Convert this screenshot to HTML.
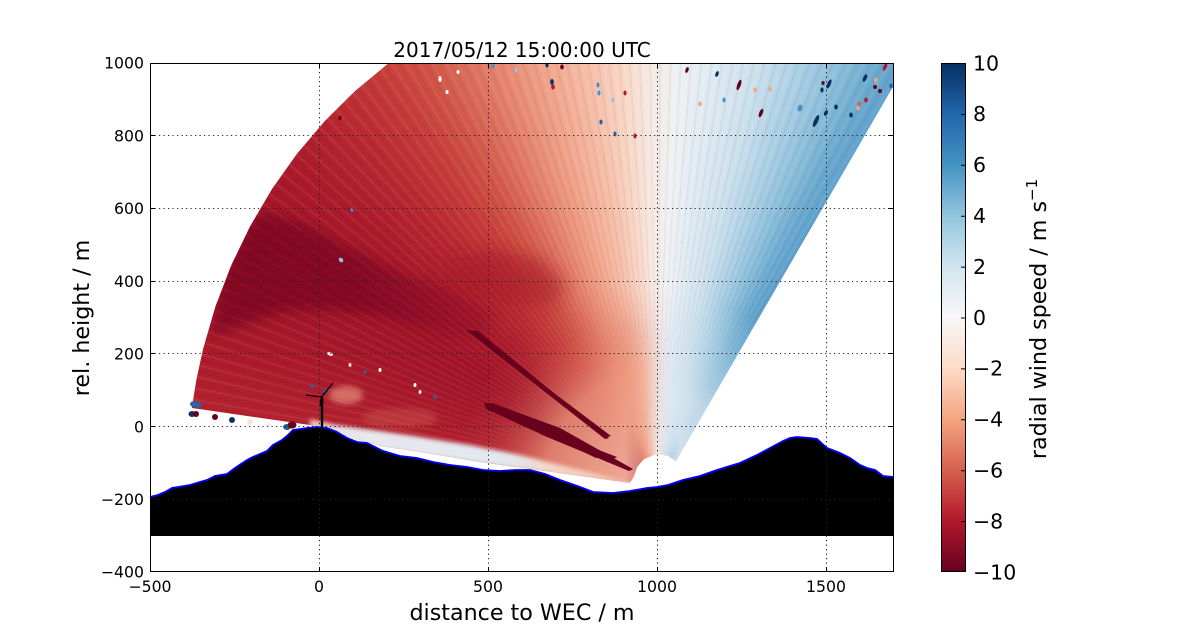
<!DOCTYPE html>
<html>
<head>
<meta charset="utf-8">
<style>
html,body{margin:0;padding:0;background:#fff;}
#wrap{position:relative;width:1200px;height:636px;overflow:hidden;background:#fff;}
#fan{position:absolute;left:0;top:0;width:1200px;height:636px;
clip-path:polygon(191.8px 408px,310px 425px,380px 446px,420px 452px,487px 463px,553px 472px,630px 483px,634px 476px,637px 467px,644px 459px,657px 454px,668px 456px,676px 461px,894px 85px,894px 63px,388.8px 63px,354.9px 91.1px,324.7px 121.1px,297px 153.8px,272px 189px,250px 226.5px,231px 265.9px,215.3px 306.9px,203px 349.3px,196.4px 379.5px);
background:
repeating-conic-gradient(from 270deg at 657px 481px, rgba(255,255,255,0.06) 0deg 0.3deg, rgba(255,255,255,0) 0.3deg 0.7deg, rgba(80,0,20,0.05) 0.7deg 1deg, rgba(0,0,0,0) 1deg 1.4deg),
conic-gradient(from 270deg at 657px 481px,
rgb(178,30,45) 0deg, rgb(180,34,47) 9deg, rgb(172,27,44) 16deg, rgb(164,22,41) 24deg, rgb(162,20,40) 32deg,
rgb(172,27,44) 42deg, rgb(186,42,50) 50deg, rgb(198,60,58) 56deg, rgb(208,84,70) 61deg, rgb(222,115,95) 66deg,
rgb(234,145,120) 71deg, rgb(242,170,145) 76deg, rgb(246,193,172) 81deg, rgb(248,214,198) 85deg, rgb(246,234,228) 89deg,
rgb(238,241,244) 93deg, rgb(222,234,242) 98deg, rgb(202,224,237) 104deg, rgb(172,208,229) 109deg, rgb(138,190,218) 114deg,
rgb(108,170,208) 118deg, rgb(92,160,204) 122deg, rgb(92,160,204) 360deg);
}
svg{position:absolute;left:0;top:0;}
text{font-family:"DejaVu Sans","Liberation Sans",sans-serif;fill:#000;}
</style>
</head>
<body>
<div id="wrap">
<div id="fan"></div>
<svg width="1200" height="636" viewBox="0 0 1200 636" xmlns="http://www.w3.org/2000/svg">
<defs>
<clipPath id="fanclip">
<polygon points="191.8,408 310,425 380,446 420,452 487,463 553,472 630,483 634,476 637,467 644,459 657,454 668,456 676,461 894,85 894,63 388.8,63 354.9,91.1 324.7,121.1 297,153.8 272,189 250,226.5 231,265.9 215.3,306.9 203,349.3 196.4,379.5"/>
</clipPath>
<filter id="b5" x="-30%" y="-30%" width="160%" height="160%"><feGaussianBlur stdDeviation="6"/></filter>
<filter id="b8" x="-30%" y="-30%" width="160%" height="160%"><feGaussianBlur stdDeviation="8"/></filter>
<filter id="b3" x="-30%" y="-30%" width="160%" height="160%"><feGaussianBlur stdDeviation="3"/></filter>
<filter id="b2" x="-30%" y="-30%" width="160%" height="160%"><feGaussianBlur stdDeviation="2"/></filter>
<radialGradient id="rg" gradientUnits="userSpaceOnUse" cx="657" cy="481" r="200">
<stop offset="0" stop-color="rgb(245,195,175)" stop-opacity="0.9"/>
<stop offset="0.3" stop-color="rgb(242,172,147)" stop-opacity="0.88"/>
<stop offset="0.55" stop-color="rgb(237,152,127)" stop-opacity="0.78"/>
<stop offset="0.7" stop-color="rgb(228,130,108)" stop-opacity="0.45"/>
<stop offset="0.85" stop-color="rgb(215,110,95)" stop-opacity="0.15"/>
<stop offset="1" stop-color="rgb(215,110,95)" stop-opacity="0"/>
</radialGradient>
<radialGradient id="rgR" gradientUnits="userSpaceOnUse" cx="657" cy="481" r="190">
<stop offset="0" stop-color="rgb(236,240,244)" stop-opacity="0.9"/>
<stop offset="0.45" stop-color="rgb(222,233,241)" stop-opacity="0.75"/>
<stop offset="0.75" stop-color="rgb(210,227,238)" stop-opacity="0.35"/>
<stop offset="1" stop-color="rgb(210,227,238)" stop-opacity="0"/>
</radialGradient>
<linearGradient id="mLg" gradientUnits="userSpaceOnUse" x1="625" y1="0" x2="672" y2="0">
<stop offset="0" stop-color="#fff"/><stop offset="1" stop-color="#000"/>
</linearGradient>
<linearGradient id="mRg" gradientUnits="userSpaceOnUse" x1="645" y1="0" x2="680" y2="0">
<stop offset="0" stop-color="#000"/><stop offset="1" stop-color="#fff"/>
</linearGradient>
<mask id="mL" maskUnits="userSpaceOnUse" x="0" y="0" width="1200" height="636"><rect x="0" y="0" width="1200" height="636" fill="url(#mLg)"/></mask>
<mask id="mR" maskUnits="userSpaceOnUse" x="0" y="0" width="1200" height="636"><rect x="0" y="0" width="1200" height="636" fill="url(#mRg)"/></mask>
<linearGradient id="pale" gradientUnits="userSpaceOnUse" x1="310" y1="0" x2="632" y2="0">
<stop offset="0" stop-color="rgb(238,190,172)"/>
<stop offset="0.1" stop-color="rgb(232,230,236)"/>
<stop offset="0.6" stop-color="rgb(226,233,240)"/>
<stop offset="0.75" stop-color="rgb(244,214,200)"/>
<stop offset="1" stop-color="rgb(246,200,182)"/>
</linearGradient>
<linearGradient id="band" gradientUnits="userSpaceOnUse" x1="210" y1="0" x2="500" y2="0">
<stop offset="0" stop-color="rgb(112,2,32)" stop-opacity="0.65"/>
<stop offset="0.5" stop-color="rgb(112,2,32)" stop-opacity="0.6"/>
<stop offset="1" stop-color="rgb(112,2,32)" stop-opacity="0.15"/>
</linearGradient>
<linearGradient id="cb" x1="0" y1="0" x2="0" y2="1">
<stop offset="0" stop-color="#053061"/>
<stop offset="0.1" stop-color="#2166ac"/>
<stop offset="0.2" stop-color="#4393c3"/>
<stop offset="0.3" stop-color="#92c5de"/>
<stop offset="0.4" stop-color="#d1e5f0"/>
<stop offset="0.5" stop-color="#f7f7f7"/>
<stop offset="0.6" stop-color="#fddbc7"/>
<stop offset="0.7" stop-color="#f4a582"/>
<stop offset="0.8" stop-color="#d6604d"/>
<stop offset="0.9" stop-color="#b2182b"/>
<stop offset="1" stop-color="#67001f"/>
</linearGradient>
</defs>

<!-- overlays inside fan -->
<g clip-path="url(#fanclip)">
  <rect x="0" y="0" width="1200" height="636" fill="url(#rg)" mask="url(#mL)"/>
  <rect x="0" y="0" width="1200" height="636" fill="url(#rgR)" mask="url(#mR)"/>
  <polygon filter="url(#b5)" fill="url(#band)" points="212,335 220,285 238,240 262,212 300,222 350,248 400,272 445,290 480,302 500,314 485,336 455,338 420,327 380,316 330,310 290,310 250,322"/>
  <polygon filter="url(#b8)" fill="rgb(160,18,40)" opacity="0.5" points="445,258 500,250 545,262 565,285 555,305 510,305 465,296 440,280"/>
  <polygon filter="url(#b2)" fill="url(#pale)" points="310,419 335,425 380,431 420,437 470,445 520,455 560,465 600,475 632,484 553,474 487,465 420,455 380,449 335,441 310,432"/>
  <ellipse filter="url(#b3)" cx="346" cy="395" rx="17" ry="9" fill="rgb(236,160,135)" opacity="0.6"/>
  <ellipse filter="url(#b3)" cx="400" cy="418" rx="38" ry="10" fill="rgb(220,115,98)" opacity="0.3"/>
  <g fill="rgb(105,0,30)">
    <polygon points="466,330 478,331 609,438 605,439"/>
    <polygon points="484,403 492,403 560,428 633,469 629,471 545,436 486,409"/>
    <polygon points="505,416 510,416 617,457 613,459"/>
    <polygon points="545,391 550,390 611,436 607,437"/>
    <polygon points="520,421 525,422 600,457 596,458"/>
    <polygon points="540,434 545,435 624,466 620,467"/>
  </g>
  <!-- outliers -->
  <g>
    <ellipse cx="687" cy="70" rx="1.6" ry="3" fill="#67001f" transform="rotate(20 687 70)"/>
    <ellipse cx="717" cy="74" rx="1.6" ry="3" fill="#053061" transform="rotate(20 717 74)"/>
    <ellipse cx="739" cy="85" rx="1.8" ry="5.5" fill="#67001f" transform="rotate(20 739 85)"/>
    <ellipse cx="755" cy="90" rx="1.8" ry="2.5" fill="#f4a582"/>
    <ellipse cx="770" cy="89" rx="1.8" ry="2.5" fill="#f4a582"/>
    <ellipse cx="700" cy="104" rx="1.8" ry="2.5" fill="#f4a582"/>
    <ellipse cx="724" cy="100" rx="1.6" ry="2.5" fill="#4393c3"/>
    <ellipse cx="761" cy="113" rx="1.8" ry="4.5" fill="#67001f" transform="rotate(22 761 113)"/>
    <ellipse cx="800" cy="108" rx="2.5" ry="3.5" fill="#4393c3" transform="rotate(22 800 108)"/>
    <ellipse cx="816" cy="121" rx="2" ry="6.5" fill="#053061" transform="rotate(24 816 121)"/>
    <ellipse cx="826" cy="113" rx="1.8" ry="3" fill="#053061" transform="rotate(24 826 113)"/>
    <ellipse cx="836" cy="107" rx="1.8" ry="2.5" fill="#053061"/>
    <ellipse cx="851" cy="115" rx="1.8" ry="2.5" fill="#053061"/>
    <ellipse cx="829" cy="84" rx="1.8" ry="5" fill="#053061" transform="rotate(24 829 84)"/>
    <ellipse cx="822" cy="90" rx="1.6" ry="2.5" fill="#053061"/>
    <ellipse cx="823" cy="83" rx="1.6" ry="2" fill="#67001f"/>
    <ellipse cx="865" cy="78" rx="1.8" ry="4" fill="#053061" transform="rotate(25 865 78)"/>
    <ellipse cx="876" cy="80" rx="1.8" ry="2.5" fill="#f4a582"/>
    <ellipse cx="875" cy="87" rx="2" ry="2" fill="#67001f"/>
    <ellipse cx="880" cy="91" rx="2" ry="2" fill="#67001f"/>
    <ellipse cx="885" cy="67" rx="1.8" ry="4" fill="#b2182b" transform="rotate(25 885 67)"/>
    <ellipse cx="866" cy="100" rx="1.8" ry="2.5" fill="#b2182b"/>
    <ellipse cx="859" cy="104" rx="1.8" ry="2.5" fill="#d6604d"/>
    <ellipse cx="858" cy="108" rx="1.8" ry="2.2" fill="#f4a582"/>
    <ellipse cx="891" cy="86" rx="1.8" ry="2.5" fill="#2166ac"/>
    <ellipse cx="493" cy="66" rx="1.6" ry="2.5" fill="#4393c3"/>
    <ellipse cx="516" cy="70" rx="1.6" ry="2.5" fill="#92c5de"/>
    <ellipse cx="547" cy="65" rx="1.6" ry="2.5" fill="#053061"/>
    <ellipse cx="562" cy="67" rx="1.8" ry="2.5" fill="#67001f"/>
    <ellipse cx="552" cy="82" rx="1.8" ry="3" fill="#053061"/>
    <ellipse cx="553" cy="87" rx="1.8" ry="2.5" fill="#b2182b"/>
    <ellipse cx="598" cy="85" rx="1.6" ry="2.5" fill="#4393c3"/>
    <ellipse cx="599" cy="93" rx="1.6" ry="2.5" fill="#4393c3"/>
    <ellipse cx="625" cy="93" rx="1.6" ry="2.5" fill="#b2182b"/>
    <ellipse cx="601" cy="122" rx="1.6" ry="2.5" fill="#2166ac"/>
    <ellipse cx="615" cy="134" rx="1.6" ry="2.5" fill="#2166ac"/>
    <ellipse cx="635" cy="136" rx="1.6" ry="2.5" fill="#b2182b"/>
    <ellipse cx="613" cy="100" rx="1.6" ry="2.5" fill="#92c5de"/>
    <ellipse cx="440" cy="79" rx="1.6" ry="3" fill="#ffffff"/>
    <ellipse cx="447" cy="92" rx="1.5" ry="2" fill="#ffffff"/>
    <ellipse cx="458" cy="72" rx="1.5" ry="2" fill="#ffffff"/>
    <ellipse cx="340" cy="118" rx="1.6" ry="2.2" fill="#67001f"/>
    <ellipse cx="352" cy="210" rx="1.4" ry="2" fill="#4393c3"/>
    <ellipse cx="341" cy="260" rx="2" ry="2.5" fill="#92c5de" transform="rotate(-40 341 260)"/>
    <ellipse cx="330" cy="354" rx="3" ry="1.6" fill="#ffffff" transform="rotate(20 330 354)"/>
    <ellipse cx="350" cy="365" rx="1.5" ry="2" fill="#fddbc7"/>
    <ellipse cx="365" cy="372" rx="1.5" ry="2" fill="#2166ac"/>
    <ellipse cx="380" cy="370" rx="1.5" ry="2" fill="#ffffff"/>
    <ellipse cx="415" cy="385" rx="1.5" ry="2" fill="#ffffff"/>
    <ellipse cx="420" cy="392" rx="1.5" ry="2" fill="#d1e5f0"/>
    <ellipse cx="435" cy="397" rx="1.6" ry="2" fill="#2166ac"/>
    <ellipse cx="312" cy="386" rx="1.6" ry="2" fill="#2166ac"/>
    <ellipse cx="325" cy="391" rx="2" ry="2" fill="#2166ac"/>
  </g>
</g>

<!-- dots outside fan (left) -->
<g>
  <ellipse cx="194" cy="404" rx="4" ry="3" fill="rgb(40,100,165)"/>
  <ellipse cx="198" cy="405" rx="3.5" ry="3" fill="rgb(40,100,165)"/>
  <ellipse cx="192" cy="414" rx="3.5" ry="3" fill="rgb(10,50,100)"/>
  <ellipse cx="196" cy="414" rx="3" ry="3" fill="#67001f"/>
  <circle cx="215" cy="417" r="3" fill="#67001f"/>
  <circle cx="232" cy="420" r="3" fill="rgb(10,50,100)"/>
  <circle cx="250" cy="422" r="3" fill="rgb(250,228,218)"/>
  <circle cx="268" cy="425" r="2.5" fill="rgb(245,240,240)"/>
  <ellipse cx="287" cy="427" rx="4" ry="3" fill="rgb(40,90,150)"/>
  <ellipse cx="292" cy="425" rx="4.5" ry="3.5" fill="#67001f"/>
</g>

<!-- ground -->
<path fill="#000" d="M150,497 L158,495 L165,492 L172,488 L178,487 L190,485 L200,482 L207,480 L215,476 L227,474 L235,468 L247,460 L253,457 L267,451 L273,445 L282,440 L287,436 L293,430 L300,429 L307,428 L317,427 L327,428 L337,432 L347,438 L357,442 L367,443 L377,448 L383,451 L400,456 L417,458 L433,462 L450,465 L467,467 L483,470 L500,471 L515,470 L530,470 L545,474 L560,480 L580,487 L593,492 L613,493 L630,491 L647,488 L657,487 L668,485 L683,480 L700,476 L717,470 L730,466 L740,463 L757,455 L770,448 L783,441 L790,438 L797,437 L810,438 L817,439 L827,448 L840,453 L850,458 L860,465 L867,468 L875,470 L883,476 L894,477 L894,536 L150,536 Z"/>
<polyline fill="none" stroke="#0000ff" stroke-width="1.8" points="150,497 158,495 165,492 172,488 178,487 190,485 200,482 207,480 215,476 227,474 235,468 247,460 253,457 267,451 273,445 282,440 287,436 293,430 300,429 307,428 317,427 327,428 337,432 347,438 357,442 367,443 377,448 383,451 400,456 417,458 433,462 450,465 467,467 483,470 500,471 515,470 530,470 545,474 560,480 580,487 593,492 613,493 630,491 647,488 657,487 668,485 683,480 700,476 717,470 730,466 740,463 757,455 770,448 783,441 790,438 797,437 810,438 817,439 827,448 840,453 850,458 860,465 867,468 875,470 883,476 894,477"/>

<!-- turbine -->
<path d="M322,428 V397" stroke="#000" stroke-width="2.5" fill="none"/>
<path d="M321.5,397 L306,395 M321.5,397 L333,383 M321.5,397 L320,406" stroke="#000" stroke-width="1.3" fill="none"/>

<!-- gridlines -->
<g stroke="#222" stroke-width="1" stroke-dasharray="1.2 3.3" fill="none">
  <path d="M319.5,63 V572 M488.5,63 V572 M657.5,63 V572 M826.5,63 V572"/>
  <path d="M150,135.5 H894 M150,208.5 H894 M150,281.5 H894 M150,353.5 H894 M150,426.5 H894 M150,499.5 H894"/>
</g>

<!-- axes frame and ticks -->
<rect x="150.5" y="63.5" width="743" height="508" fill="none" stroke="#000" stroke-width="1"/>
<g stroke="#000" stroke-width="1" fill="none">
  <path d="M319.5,572 v-5 M488.5,572 v-5 M657.5,572 v-5 M826.5,572 v-5"/>
  <path d="M319.5,63 v5 M488.5,63 v5 M657.5,63 v5 M826.5,63 v5"/>
  <path d="M150,135.5 h5 M150,208.5 h5 M150,281.5 h5 M150,353.5 h5 M150,426.5 h5 M150,499.5 h5"/>
  <path d="M894,135.5 h-5 M894,208.5 h-5 M894,281.5 h-5 M894,353.5 h-5 M894,426.5 h-5 M894,499.5 h-5"/>
</g>

<!-- title -->
<text x="522" y="57" font-size="20" text-anchor="middle">2017/05/12 15:00:00 UTC</text>

<!-- x tick labels -->
<g font-size="15.7" text-anchor="middle">
  <text x="150" y="592">−500</text>
  <text x="319" y="592">0</text>
  <text x="488" y="592">500</text>
  <text x="657" y="592">1000</text>
  <text x="826" y="592">1500</text>
</g>
<!-- y tick labels -->
<g font-size="15.7" text-anchor="end">
  <text x="144" y="68.7">1000</text>
  <text x="144" y="141.4">800</text>
  <text x="144" y="214.1">600</text>
  <text x="144" y="286.8">400</text>
  <text x="144" y="359.6">200</text>
  <text x="144" y="432.3">0</text>
  <text x="144" y="505">−200</text>
  <text x="144" y="577.7">−400</text>
</g>

<!-- axis labels -->
<text x="522" y="620" font-size="22.2" text-anchor="middle">distance to WEC / m</text>
<text transform="translate(89,318) rotate(-90)" font-size="22.2" text-anchor="middle">rel. height / m</text>

<!-- colorbar -->
<rect x="941" y="63" width="25" height="509" fill="url(#cb)"/>
<rect x="941.5" y="63.5" width="24" height="508" fill="none" stroke="#000" stroke-width="1"/>
<g stroke="#000" stroke-width="1" fill="none">
  <path d="M966,114.4 h-5 M966,165.3 h-5 M966,216.2 h-5 M966,267.1 h-5 M966,318 h-5 M966,368.9 h-5 M966,419.8 h-5 M966,470.7 h-5 M966,521.6 h-5"/>
</g>
<g font-size="20.5">
  <text x="973" y="70.3">10</text>
  <text x="973" y="121.2">8</text>
  <text x="973" y="172.1">6</text>
  <text x="973" y="223">4</text>
  <text x="973" y="273.9">2</text>
  <text x="973" y="324.8">0</text>
  <text x="973" y="375.7">−2</text>
  <text x="973" y="426.6">−4</text>
  <text x="973" y="477.5">−6</text>
  <text x="973" y="528.4">−8</text>
  <text x="973" y="579.3">−10</text>
</g>
<text transform="translate(1046,319) rotate(-90)" font-size="22.2" text-anchor="middle">radial wind speed / m s<tspan dy="-9" font-size="15">−1</tspan></text>
</svg>
</div>
</body>
</html>
